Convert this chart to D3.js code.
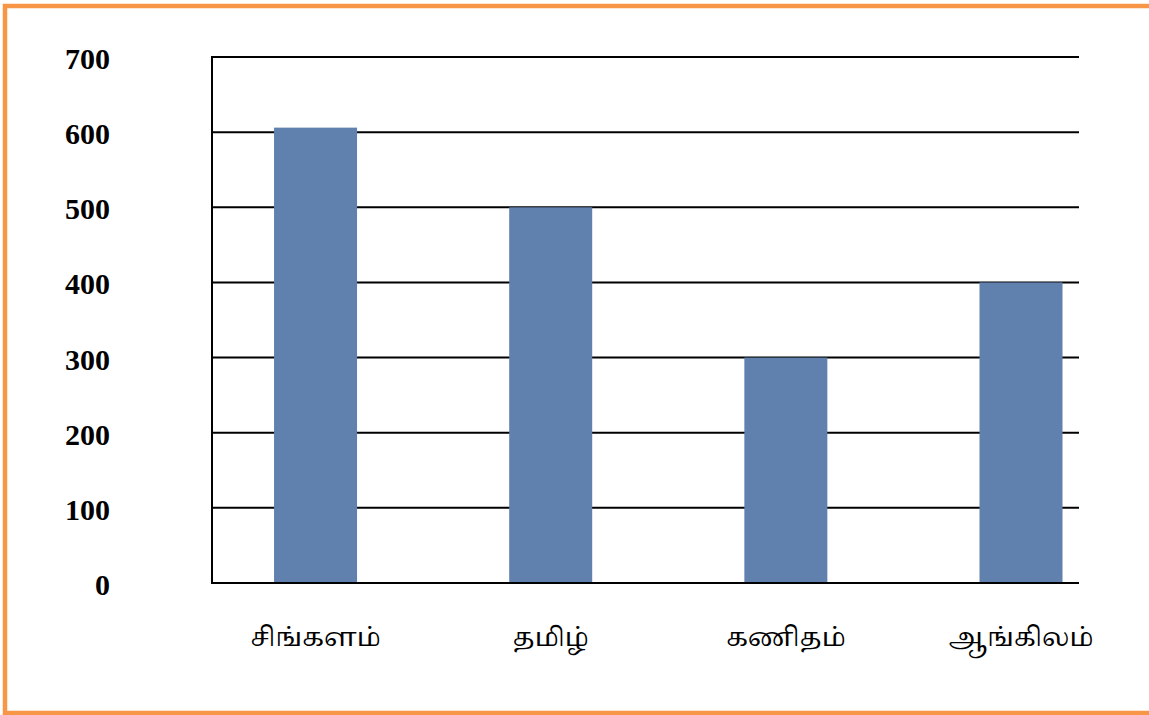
<!DOCTYPE html>
<html>
<head>
<meta charset="utf-8">
<script src="https://cdnjs.cloudflare.com/ajax/libs/d3/7.8.5/d3.min.js"></script>
<style>
body { margin: 0; background: #fff; }
svg { display: block; }
</style>
</head>
<body>
<svg width="1149" height="715"></svg>
<script>
var subjects = ["சிங்களம்", "தமிழ்", "கணிதம்", "ஆங்கிலம்"];
var marks = [606, 500, 300, 400];
var yTicks = [0, 100, 200, 300, 400, 500, 600, 700];

var canvas = d3.select("svg"),
		width = +canvas.attr("width"),
		height = +canvas.attr("height");

var plotLeft = 212, plotRight = 1079, plotTop = 57, plotBottom = 583;

// orange frame, right edge runs off the picture
canvas.append("rect")
	.attr("x", 5)
	.attr("y", 6)
	.attr("width", 1170)
	.attr("height", 707)
	.attr("fill", "#fff")
	.attr("stroke", "#f79646")
	.attr("stroke-width", 4.5);

var x = d3.scaleBand()
		.domain(subjects)
		.range([plotLeft, plotRight])
		.paddingInner(0.647)
		.paddingOuter(0.167)
		.align(0.79);

var y = d3.scaleLinear()
		.domain([0, 700])
		.range([plotBottom, plotTop]);

var g = canvas.append("g");

// gridlines
g.selectAll(".grid")
	.data(yTicks)
	.enter()
	.append("line")
	.attr("class", "grid")
	.attr("x1", plotLeft)
	.attr("x2", plotRight)
	.attr("y1", function(d) { return y(d); })
	.attr("y2", function(d) { return y(d); })
	.attr("stroke", "#000")
	.attr("stroke-width", 2);

// left axis line
g.append("line")
	.attr("x1", plotLeft)
	.attr("x2", plotLeft)
	.attr("y1", y(700) - 1)
	.attr("y2", y(0) + 1)
	.attr("stroke", "#000")
	.attr("stroke-width", 2);

// bars
g.selectAll(".bar")
	.data(marks)
	.enter()
	.append("rect")
	.attr("class", "bar")
	.attr("x", function(d, i) { return x(subjects[i]); })
	.attr("width", x.bandwidth())
	.attr("y", function(d) { return y(d); })
	.attr("height", function(d) { return y(0) - y(d) - 1; })
	.attr("fill", "#6080ad");

// y labels
g.selectAll(".ylabel")
	.data(yTicks)
	.enter()
	.append("text")
	.attr("class", "ylabel")
	.attr("x", 110)
	.attr("y", function(d) { return y(d) + 12; })
	.attr("text-anchor", "end")
	.attr("font-family", "'Liberation Serif', 'Times New Roman', serif")
	.attr("font-weight", "bold")
	.attr("font-size", 30)
	.attr("fill", "#000")
	.text(function(d) { return d; });

// category labels
g.selectAll(".xlabel")
	.data(subjects)
	.enter()
	.append("text")
	.attr("class", "xlabel")
	.attr("x", function(d) { return x(d) + x.bandwidth() / 2; })
	.attr("y", 646)
	.attr("text-anchor", "middle")
	.attr("font-family", "'Noto Serif Tamil', 'Noto Sans Tamil', 'Latha', serif")
	.attr("font-size", 26)
	.attr("fill", "#000")
	.text(function(d) { return d; });
</script>
</body>
</html>
